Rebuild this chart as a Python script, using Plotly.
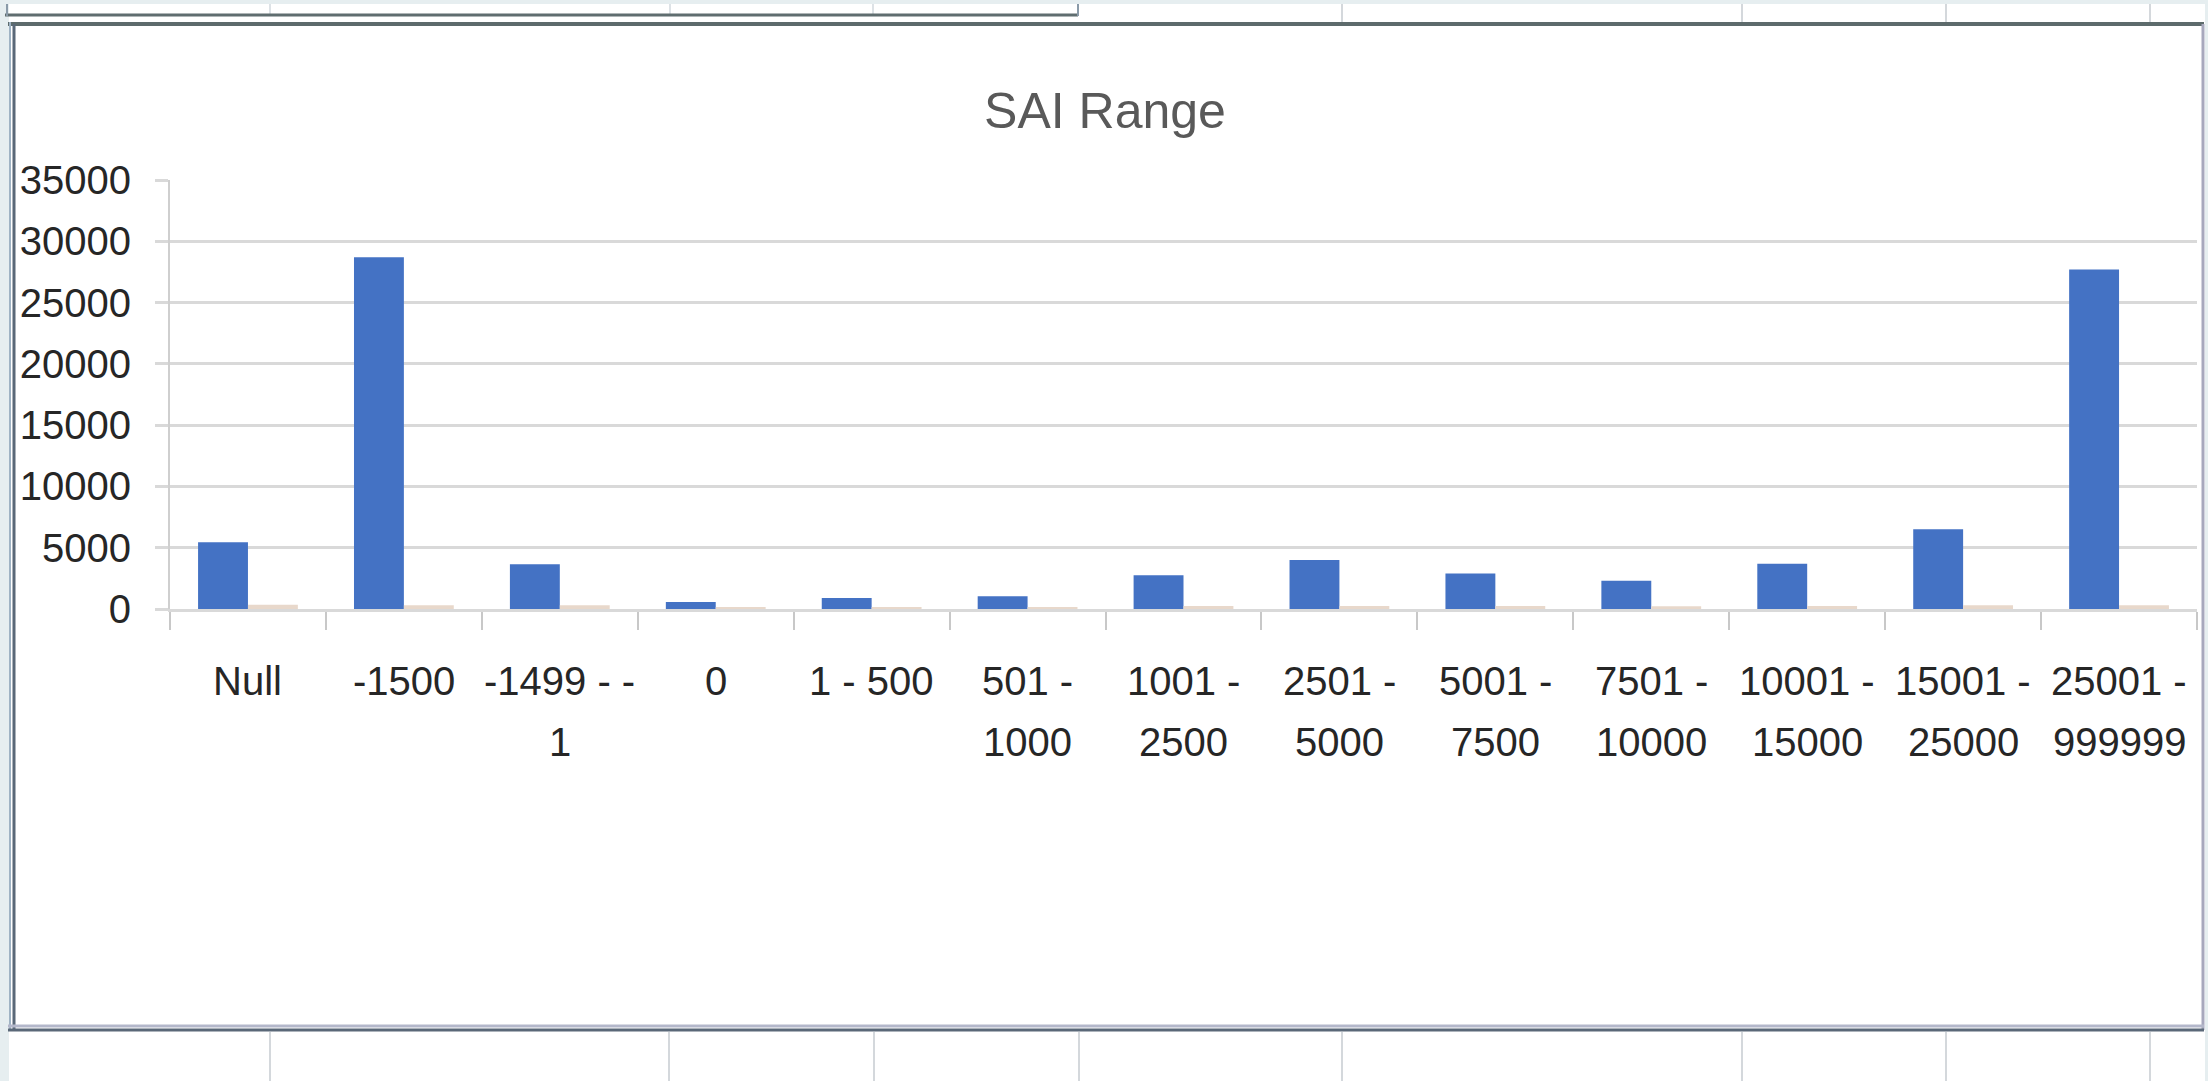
import plotly.graph_objects as go

# ---- data ----
categories = ["Null", "-1500", "-1499 - -1", "0", "1 - 500", "501 - 1000",
              "1001 - 2500", "2501 - 5000", "5001 - 7500", "7501 - 10000",
              "10001 - 15000", "15001 - 25000", "25001 - 999999"]
label_line1 = ["Null", "-1500", "-1499 - -", "0", "1 - 500", "501 -",
               "1001 -", "2501 -", "5001 -", "7501 -", "10001 -", "15001 -", "25001 -"]
label_line2 = ["", "", "1", "", "", "1000", "2500", "5000", "7500", "10000",
               "15000", "25000", "999999"]
series1 = [5450, 28700, 3650, 580, 900, 1050, 2750, 4000, 2900, 2300, 3700, 6500, 27700]
series2 = [350, 300, 300, 120, 120, 120, 250, 250, 250, 220, 250, 300, 300]
y_ticks = [0, 5000, 10000, 15000, 20000, 25000, 30000, 35000]

W, H = 2208, 1081
L, R, T, B = 170, 2197, 180, 609

def px(x):
    return (x - L) / (R - L)

def py(y):
    return (B - y) / (B - T)

FONT = "Liberation Sans, Arial, sans-serif"
LABEL_COLOR = "#262626"

fig = go.Figure()
fig.add_trace(go.Bar(x=categories, y=series1, marker=dict(color="#4472c4", line=dict(width=0)),
                     name="Series1"))
fig.add_trace(go.Bar(x=categories, y=series2, marker=dict(color="#e8d8cb", line=dict(width=0)),
                     name="Series2"))

shapes = []
def rect(x0, y0, x1, y1, fill, layer="below"):
    shapes.append(dict(type="rect", xref="paper", yref="paper", x0=px(x0), x1=px(x1),
                       y0=py(y0), y1=py(y1), fillcolor=fill, line=dict(width=0), layer=layer))

def line(x0, y0, x1, y1, color, width, layer="below"):
    shapes.append(dict(type="line", xref="paper", yref="paper", x0=px(x0), x1=px(x1),
                       y0=py(y0), y1=py(y1), line=dict(color=color, width=width), layer=layer))

PAGE = "#e6eef0"
# page strips
rect(0, 0, W, 4, PAGE)
rect(0, 0, 9, H, PAGE)
rect(2205, 0, W, H, PAGE)
# spreadsheet cell lines
for x in [1342, 1742, 1946, 2150]:
    line(x, 4, x, 22, "#d4d8dc", 2)
for x in [270, 670, 873]:
    line(x, 4, x, 14, "#dde2e6", 2)
for x in [270, 669, 874, 1079, 1342, 1742, 1946, 2150]:
    line(x, 1032, x, H, "#d4d8dc", 2)
# top-left box
line(5, 15, 1078, 15, "#5f6d6f", 3)
line(1078, 4, 1078, 16, "#8a9aa8", 2)
line(7, 4, 7, 16, "#8a9aa8", 2)
# chart frame
rect(12, 24, 2202, 1028, "#ffffff")
line(8, 24, W - 4, 24, "#5d6b6c", 4)
line(10, 22, 10, 1030, "#9fb3c4", 2)
line(14, 24, 14, 1030, "#5a6878", 3)
line(2203, 24, 2203, 1030, "#a7a8bd", 3)
line(8, 1026, W - 4, 1026, "#b3b7ca", 3)
line(8, 1030, W - 4, 1030, "#5a6878", 3)

# category labels (two lines, Excel-style wrapping), placed at category index
annotations = []
for i, (l1, l2) in enumerate(zip(label_line1, label_line2)):
    annotations.append(dict(x=i, xref="x", y=py(681), yref="paper", text=l1,
                            showarrow=False, xanchor="center", yanchor="middle",
                            font=dict(family=FONT, size=40, color=LABEL_COLOR)))
    if l2:
        annotations.append(dict(x=i, xref="x", y=py(742), yref="paper", text=l2,
                                showarrow=False, xanchor="center", yanchor="middle",
                                font=dict(family=FONT, size=40, color=LABEL_COLOR)))

fig.update_layout(
    width=W, height=H,
    margin=dict(l=L, r=W - R, t=T, b=H - B, pad=0, autoexpand=False),
    paper_bgcolor="#ffffff",
    plot_bgcolor="rgba(0,0,0,0)",
    barmode="group",
    bargap=0.36,
    bargroupgap=0,
    showlegend=False,
    shapes=shapes,
    annotations=annotations,
    title=dict(text="SAI Range", x=1105 / W, xref="container", xanchor="center",
               y=1 - 110 / H, yref="container", yanchor="middle",
               font=dict(family=FONT, size=50, color="#595959")),
    font=dict(family=FONT, size=40, color="#333333"),
)
fig.update_yaxes(range=[0, 35000], tickvals=y_ticks, ticktext=[str(v) for v in y_ticks],
                 showgrid=True, gridcolor="#d9d9d9", gridwidth=3,
                 ticks="outside", ticklen=13, tickcolor="#d9d9d9", tickwidth=3,
                 showline=True, linecolor="#cfcfcf", linewidth=2,
                 zeroline=False, ticklabelstandoff=16, automargin=False,
                 tickfont=dict(family=FONT, size=40, color=LABEL_COLOR))
fig.update_xaxes(type="category", categoryorder="array", categoryarray=categories,
                 range=[-0.5, len(categories) - 0.5],
                 tickson="boundaries", ticks="outside", ticklen=18,
                 tickcolor="#c8c8c8", tickwidth=2, showline=True, linecolor="#d9d9d9",
                 linewidth=3, showgrid=False, showticklabels=False,
                 automargin=False)

fig.write_html("out.html", config={"displayModeBar": False},
               post_script="document.body.style.margin='0';")
